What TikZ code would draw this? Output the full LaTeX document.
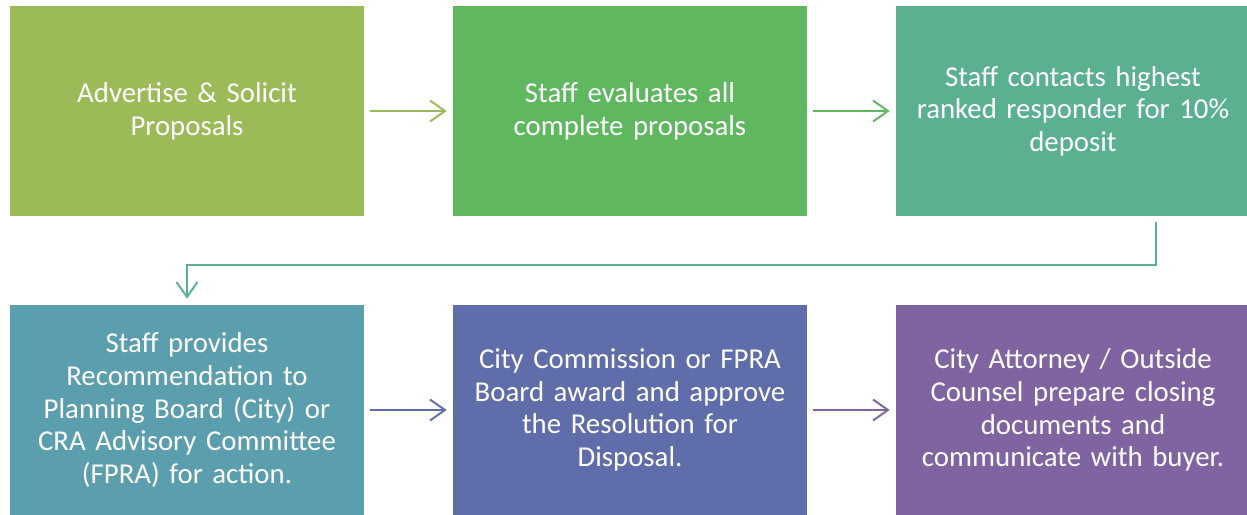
\documentclass[tikz,border=0pt]{standalone}
\usepackage{fontspec}
\setmainfont{Carlito}
\usetikzlibrary{arrows.meta}

\definecolor{boxA}{HTML}{9BBB59}
\definecolor{boxB}{HTML}{5FB760}
\definecolor{boxC}{HTML}{5BB090}
\definecolor{boxD}{HTML}{5B9EAD}
\definecolor{boxE}{HTML}{5F6DAA}
\definecolor{boxF}{HTML}{8064A2}

\tikzset{
  stepbox/.style={rectangle, minimum width=7.08cm, minimum height=4.2cm,
    text width=6.9cm, align=center, text=white, inner sep=0pt,
    font=\fontsize{16.4}{18.6}\selectfont},
  flow/.style={line width=1.1pt, shorten <=0.12cm, shorten >=0.12cm,
    -{Straight Barb[length=0.3cm,width=0.42cm,line width=1.1pt]}}
}

\begin{document}
\begin{tikzpicture}[x=0.02cm,y=-0.02cm]
\useasboundingbox (0,0) rectangle (1247,514);

%OBERE ZEILE
\node [stepbox, fill=boxA] (adv) at (187,111) {Advertise \& Solicit\\Proposals};
\node [stepbox, fill=boxB] (eval) at (630,111) {Staff evaluates all\\complete proposals};
\node [stepbox, fill=boxC] (dep) at (1073,111) {Staff contacts highest\\ranked responder for 10\%\\deposit};

%UNTERE ZEILE
\node [stepbox, fill=boxD] (rec) at (187,410) {Staff provides\\Recommendation to\\Planning Board (City) or\\CRA Advisory Committee\\(FPRA) for action.};
\node [stepbox, fill=boxE] (award) at (630,410) {City Commission or FPRA\\Board award and approve\\the Resolution for\\Disposal.};
\node [stepbox, fill=boxF] (close) at (1073,410) {City Attorney / Outside\\Counsel prepare closing\\documents and\\communicate with buyer.};

%VERBINDUNGEN
\draw [flow, boxA] (adv) -- (eval);
\draw [flow, boxB] (eval) -- (dep);
\coordinate (turn) at (0,265);
\draw [flow, boxC] ([xshift=1.66cm]dep.south) -- ([xshift=1.66cm]dep.south |- turn) -| (rec.north);
\draw [flow, boxE] (rec) -- (award);
\draw [flow, boxF] (award) -- (close);

\end{tikzpicture}
\end{document}
